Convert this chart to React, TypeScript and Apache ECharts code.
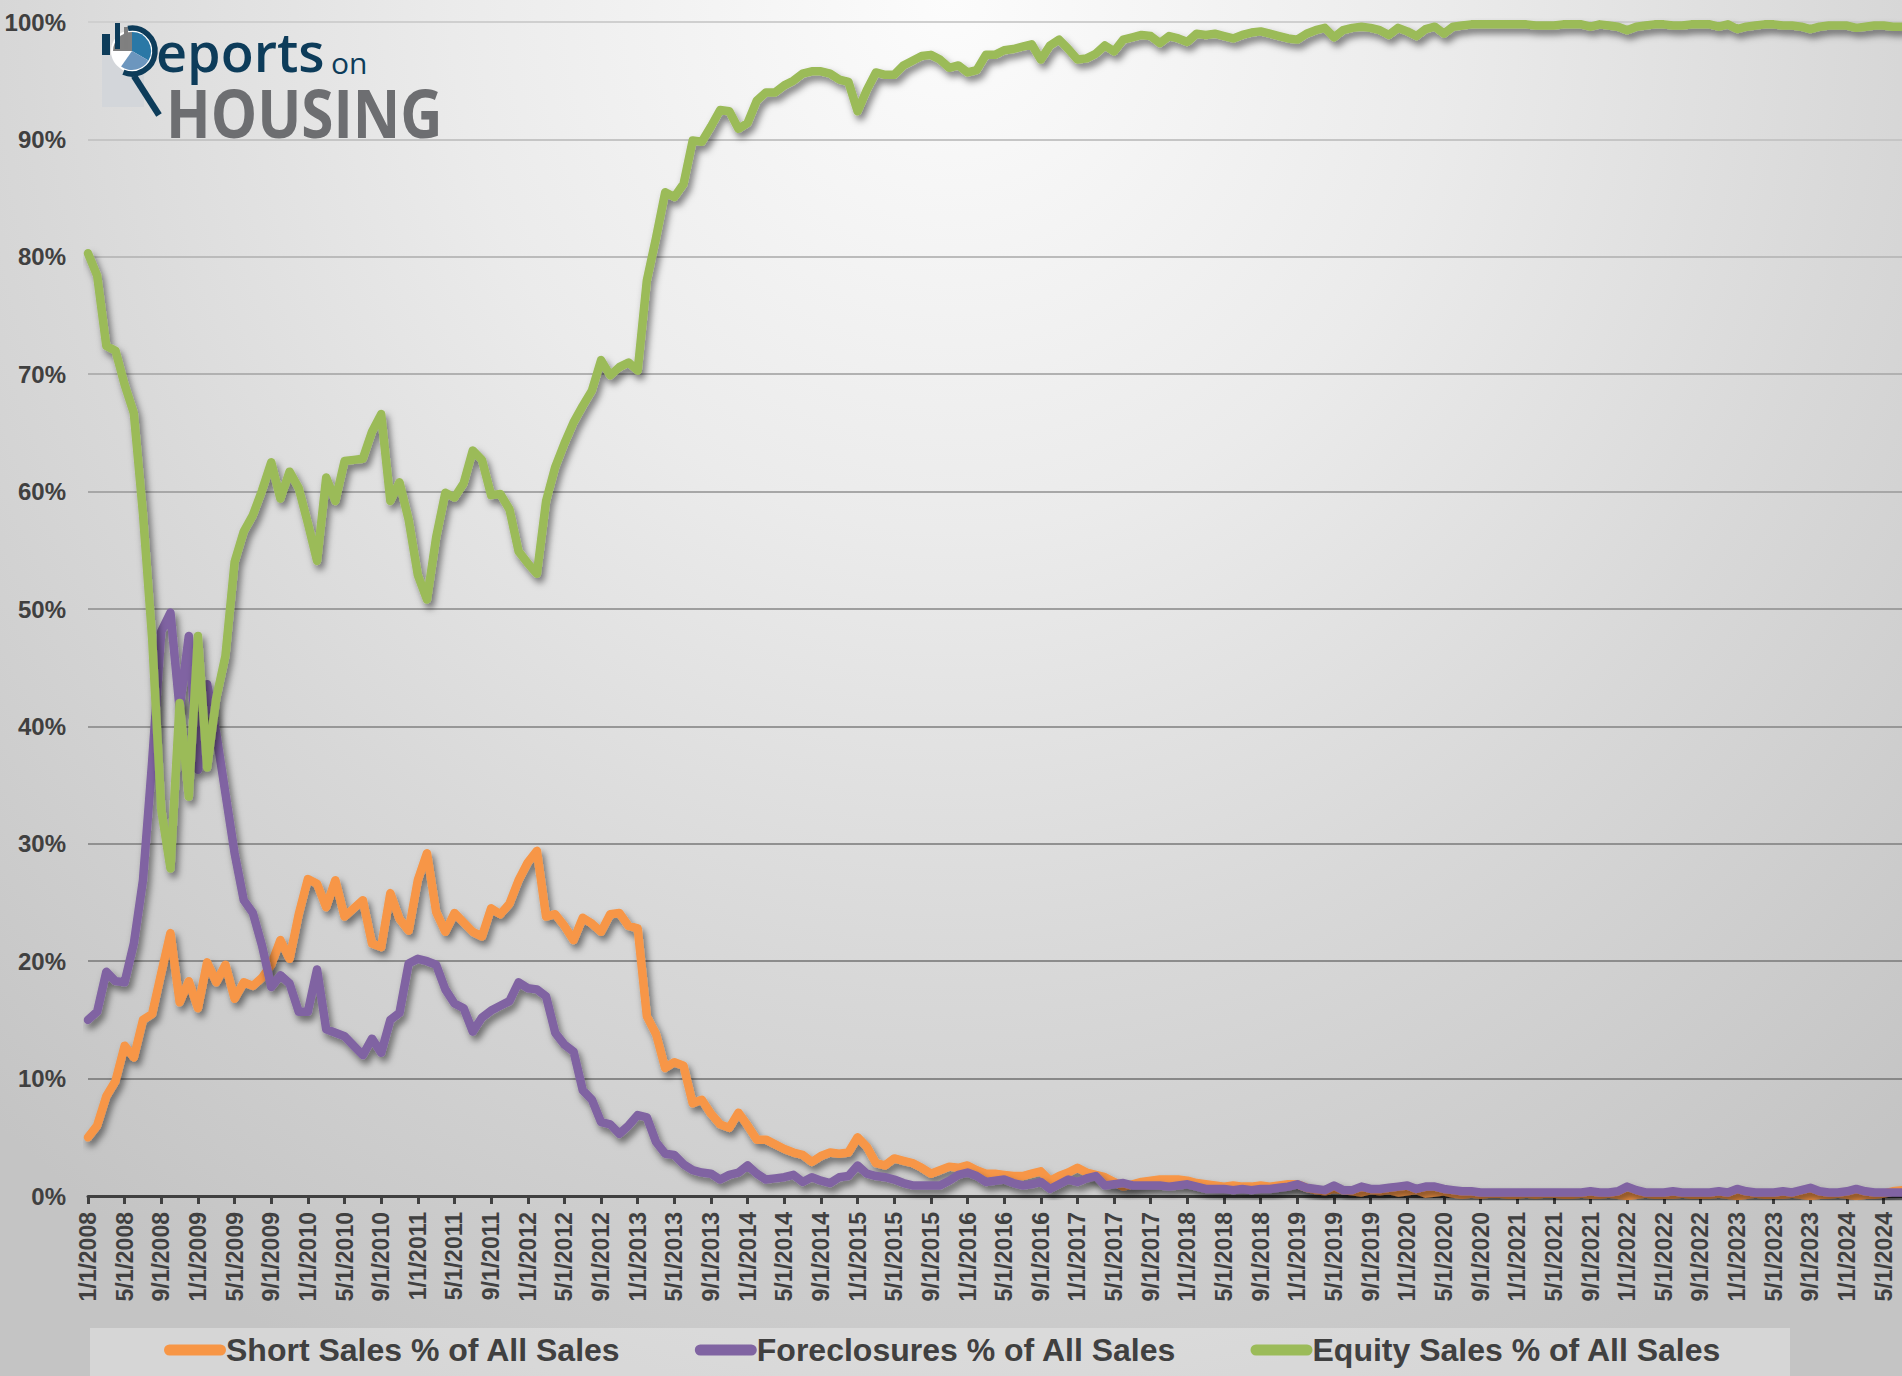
import React, { useEffect, useRef } from 'react';
import * as echarts from 'echarts';

const START_YEAR = 2008;

const shortSales = [
  5.0, 6.0, 8.5, 9.8, 12.8, 11.8, 15.0, 15.5, 19.0, 22.4,
  16.5, 18.3, 16.0, 19.9, 18.2, 19.7, 16.8, 18.2, 17.9, 18.6,
  19.7, 21.8, 20.2, 24.0, 27.0, 26.6, 24.6, 26.9, 23.8, 24.5,
  25.2, 21.5, 21.2, 25.8, 23.6, 22.6, 26.9, 29.2, 24.2, 22.5,
  24.1, 23.3, 22.5, 22.1, 24.5, 24.0, 24.9, 26.9, 28.4, 29.4,
  23.8, 24.0, 23.0, 21.8, 23.7, 23.2, 22.5, 24.0, 24.1, 23.0,
  22.8, 15.3, 13.8, 10.9, 11.4, 11.1, 7.9, 8.2, 7.0, 6.1,
  5.8, 7.1, 6.0, 4.8, 4.8, 4.4, 4.0, 3.7, 3.5, 2.9,
  3.4, 3.7, 3.6, 3.7, 5.0, 4.2, 2.8, 2.6, 3.2, 3.0,
  2.8, 2.4, 1.9, 2.2, 2.5, 2.4, 2.6, 2.2, 1.9, 1.9,
  1.8, 1.7, 1.7, 1.9, 2.1, 1.3, 1.7, 2.0, 2.4, 2.0,
  1.8, 1.6, 1.2, 0.8, 1.0, 1.2, 1.3, 1.4, 1.4, 1.4,
  1.3, 1.1, 1.0, 0.9, 0.8, 0.9, 0.8, 0.8, 0.9, 0.8,
  0.9, 1.0, 1.0, 0.7, 0.5, 0.4, 0.6, 0.5, 0.4, 0.3,
  0.5, 0.4, 0.5, 0.3, 0.4, 0.5, 0.2, 0.3, 0.4, 0.2,
  0.1, 0.2, 0.1, 0.2, 0.2, 0.1, 0.1, 0.2, 0.1, 0.2,
  0.2, 0.1, 0.1, 0.2, 0.1, 0.1, 0.2, 0.1, 0.0, 0.1,
  0.2, 0.1, 0.1, 0.1, 0.2, 0.1, 0.1, 0.1, 0.2, 0.1,
  0.0, 0.1, 0.2, 0.1, 0.1, 0.1, 0.2, 0.1, 0.0, 0.1,
  0.1, 0.2, 0.1, 0.0, 0.1, 0.1, 0.2, 0.4, 0.5,
];

const foreclosures = [
  15.0, 15.7, 19.1, 18.3, 18.2, 21.5, 26.9, 37.0, 48.1, 49.7,
  41.5, 47.7, 36.3, 43.6, 39.4, 34.3, 29.2, 25.2, 24.1, 21.3,
  17.8, 18.8, 18.1, 15.7, 15.7, 19.3, 14.2, 13.9, 13.6, 12.8,
  12.0, 13.4, 12.2, 15.0, 15.6, 19.8, 20.2, 20.0, 19.7, 17.6,
  16.4, 16.0, 14.0, 15.2, 15.8, 16.2, 16.6, 18.2, 17.7, 17.6,
  17.0, 13.9, 12.9, 12.3, 9.0, 8.2, 6.3, 6.1, 5.3, 6.0,
  6.9, 6.7, 4.6, 3.6, 3.5, 2.7, 2.2, 2.0, 1.9, 1.4,
  1.8, 2.0, 2.6, 1.9, 1.4, 1.5, 1.6, 1.8, 1.2, 1.6,
  1.3, 1.1, 1.6, 1.7, 2.6, 1.9, 1.7, 1.6, 1.4, 1.1,
  0.9, 0.9, 0.9, 0.9, 1.3, 1.8, 2.0, 1.7, 1.2, 1.3,
  1.4, 1.1, 0.9, 1.0, 1.2, 0.6, 1.0, 1.4, 1.2, 1.5,
  1.7, 0.9, 1.0, 1.1, 0.9, 0.9, 0.9, 0.9, 0.8, 0.9,
  1.0, 0.8, 0.6, 0.6, 0.6, 0.5, 0.6, 0.5, 0.6, 0.6,
  0.7, 0.8, 1.0, 0.7, 0.6, 0.5, 0.9, 0.5, 0.5, 0.8,
  0.6, 0.6, 0.7, 0.8, 0.9, 0.6, 0.8, 0.8, 0.6, 0.5,
  0.4, 0.4, 0.3, 0.3, 0.3, 0.3, 0.3, 0.3, 0.3, 0.3,
  0.3, 0.3, 0.3, 0.3, 0.4, 0.3, 0.3, 0.4, 0.8, 0.5,
  0.3, 0.3, 0.3, 0.4, 0.3, 0.3, 0.3, 0.3, 0.4, 0.3,
  0.6, 0.4, 0.3, 0.3, 0.3, 0.4, 0.3, 0.5, 0.7, 0.4,
  0.3, 0.3, 0.4, 0.6, 0.4, 0.3, 0.3, 0.3, 0.3,
];

const equitySales = [
  80.3, 78.4, 72.4, 72.0, 69.1, 66.7, 58.1, 47.5, 32.9, 27.9,
  42.0, 34.0, 47.7, 36.5, 42.4, 46.0, 54.0, 56.6, 58.0, 60.1,
  62.5, 59.4, 61.7, 60.3, 57.3, 54.1, 61.2, 59.2, 62.6, 62.7,
  62.8, 65.1, 66.6, 59.2, 60.8, 57.6, 52.9, 50.8, 56.1, 59.9,
  59.5, 60.7, 63.5, 62.7, 59.7, 59.8, 58.5, 54.9, 53.9, 53.0,
  59.2, 62.1, 64.1, 65.9, 67.3, 68.6, 71.2, 69.9, 70.6, 71.0,
  70.3, 78.0, 81.6, 85.5, 85.1, 86.2, 89.9, 89.8, 91.1, 92.5,
  92.4, 90.9, 91.4, 93.3, 94.0, 94.0, 94.6, 95.0, 95.6, 95.8,
  95.8, 95.6, 95.1, 94.9, 92.4, 94.2, 95.7, 95.5, 95.5, 96.3,
  96.7, 97.1, 97.2, 96.8, 96.1, 96.3, 95.7, 95.9, 97.2, 97.2,
  97.6, 97.7, 97.9, 98.1, 96.8, 98.0, 98.5, 97.7, 96.8, 96.9,
  97.3, 98.0, 97.5, 98.5, 98.7, 98.9, 98.8, 98.2, 98.8, 98.6,
  98.3, 99.0, 98.9, 99.0, 98.8, 98.6, 98.9, 99.1, 99.2, 99.0,
  98.8, 98.6, 98.5, 99.0, 99.3, 99.5, 98.7, 99.3, 99.5, 99.6,
  99.5, 99.3, 98.9, 99.5, 99.2, 98.8, 99.4, 99.6, 99.0, 99.6,
  99.7, 99.8, 99.8, 99.8, 99.8, 99.8, 99.8, 99.8, 99.7, 99.7,
  99.7, 99.8, 99.8, 99.8, 99.6, 99.8, 99.7, 99.6, 99.3, 99.6,
  99.7, 99.8, 99.8, 99.7, 99.7, 99.8, 99.8, 99.8, 99.6, 99.8,
  99.4, 99.6, 99.7, 99.8, 99.8, 99.7, 99.7, 99.6, 99.4, 99.6,
  99.7, 99.7, 99.7, 99.5, 99.6, 99.7, 99.7, 99.6, 99.6,
];

const seriesNames = [
  'Short Sales % of All Sales',
  'Foreclosures % of All Sales',
  'Equity Sales % of All Sales',
];
const seriesColors = ['#F79646', '#8064A2', '#9BBB59'];

// month categories 1/1/2008 ... (one per data point)
const categories = shortSales.map(
  (_, i) => `${(i % 12) + 1}/1/${START_YEAR + Math.floor(i / 12)}`
);

// gridline colours from 0% to 100%
const gridColors = [
  '#808080', '#888888', '#8c8c8c', '#919191', '#979797', '#9e9e9e',
  '#a7a7a7', '#b1b1b1', '#bbbbbb', '#c5c5c5', '#cfcfcf',
];

const FONT = '"Liberation Sans", Arial, sans-serif';
const NAVY = '#0d3c5a';

export default function App() {
  const ref = useRef<HTMLDivElement>(null);

  useEffect(() => {
    if (!ref.current) return;
    const chart = echarts.init(ref.current, undefined, { renderer: 'svg' });
    const D = Math.PI / 180;
    const lineStyleFor = (c: string) => ({
      width: 8.5,
      color: c,
      cap: 'round',
      join: 'round',
      shadowColor: 'rgba(0,0,0,0.5)',
      shadowBlur: 7,
      shadowOffsetX: 3,
      shadowOffsetY: 5,
    });
    const data = [shortSales, foreclosures, equitySales];

    chart.setOption({
      animation: false,
      backgroundColor: 'transparent',
      textStyle: { fontFamily: FONT },
      grid: { left: 88, right: 0, top: 22, bottom: 180, containLabel: false },
      xAxis: {
        type: 'category',
        data: categories,
        boundaryGap: false,
        axisLine: { lineStyle: { color: '#404040', width: 3 } },
        axisTick: {
          interval: 3,
          length: 8,
          lineStyle: { color: '#404040', width: 3 },
        },
        axisLabel: {
          interval: 3,
          rotate: 90,
          margin: 16,
          fontSize: 23,
          fontWeight: 'bold',
          color: '#404040',
          fontFamily: FONT,
        },
        splitLine: { show: false },
      },
      yAxis: {
        type: 'value',
        min: 0,
        max: 100,
        interval: 10,
        axisLine: { show: false },
        axisTick: { show: false },
        axisLabel: {
          formatter: '{value}%',
          margin: 22,
          fontSize: 24,
          fontWeight: 'bold',
          color: '#404040',
          fontFamily: FONT,
        },
        splitLine: { lineStyle: { color: gridColors, width: 2 } },
      },
      legend: {
        left: 164,
        top: 1334,
        padding: 0,
        itemWidth: 62,
        itemHeight: 11,
        itemGap: 74,
        icon: 'path://M5.5,0 H56.5 A5.5,5.5 0 0 1 56.5,11 H5.5 A5.5,5.5 0 0 1 5.5,0 Z',
        itemStyle: { shadowBlur: 0, shadowOffsetX: 0, shadowOffsetY: 0, shadowColor: 'transparent' },
        textStyle: {
          fontSize: 32,
          fontWeight: 'bold',
          color: '#404040',
          fontFamily: FONT,
          padding: [0, 0, 0, -5],
        },
        data: seriesNames,
      },
      series: seriesNames.map((name, k) => ({
        name,
        type: 'line',
        data: data[k],
        symbol: 'none',
        z: 2 + k,
        color: seriesColors[k],
        itemStyle: { color: seriesColors[k] },
        lineStyle: lineStyleFor(seriesColors[k]),
      })),
      graphic: [
        {
          type: 'rect',
          silent: true,
          z: 0,
          shape: { x: 90, y: 1328, width: 1700, height: 48 },
          style: { fill: 'rgba(255,255,255,0.3)' },
        },
        // logo
        { type: 'rect', z: 10, shape: { x: 102, y: 55, width: 42, height: 52 }, style: { fill: '#d3d6da' } },
        { type: 'rect', z: 10, shape: { x: 102, y: 34, width: 8, height: 21 }, style: { fill: NAVY } },
        { type: 'circle', z: 10, shape: { cx: 132, cy: 51, r: 21 }, style: { fill: '#ffffff' } },
        { type: 'sector', z: 11, shape: { cx: 132, cy: 51, r0: 0, r: 19, startAngle: -90 * D, endAngle: 30 * D }, style: { fill: '#2a78a6' } },
        { type: 'sector', z: 11, shape: { cx: 132, cy: 51, r0: 0, r: 19, startAngle: 30 * D, endAngle: 125 * D }, style: { fill: '#6c96be' } },
        { type: 'sector', z: 11, shape: { cx: 132, cy: 51, r0: 0, r: 19, startAngle: 180 * D, endAngle: 270 * D }, style: { fill: '#808080' } },
        { type: 'rect', z: 12, shape: { x: 115, y: 23, width: 5, height: 26 }, style: { fill: NAVY } },
        { type: 'rect', z: 12, shape: { x: 124, y: 27, width: 4, height: 22 }, style: { fill: '#7f7f7f' } },
        { type: 'arc', z: 12, shape: { cx: 132, cy: 51, r: 23, startAngle: -100 * D, endAngle: 112 * D, clockwise: true }, style: { stroke: NAVY, lineWidth: 5.5, fill: 'none' } },
        { type: 'line', z: 12, shape: { x1: 134, y1: 76, x2: 159, y2: 115 }, style: { stroke: NAVY, lineWidth: 6.5 } },
        {
          type: 'text', z: 12, x: 156, y: 51,
          style: { text: 'eports', fontSize: 54, fontWeight: 600, fontFamily: '"Open Sans", sans-serif', fill: NAVY, textVerticalAlign: 'middle', textAlign: 'left' },
        },
        {
          type: 'text', z: 12, x: 331, y: 62,
          style: { text: 'on', fontSize: 30, fontWeight: 500, fontFamily: '"Open Sans", sans-serif', fill: NAVY, textVerticalAlign: 'middle', textAlign: 'left' },
        },
        {
          type: 'text', z: 12, x: 166, y: 112, scaleX: 0.885,
          style: { text: 'HOUSING', fontSize: 66, fontWeight: 'bold', fontFamily: '"Open Sans", sans-serif', fill: '#6d6e71', textVerticalAlign: 'middle', textAlign: 'left' },
        },
      ],
    });
    return () => chart.dispose();
  }, []);

  return (
    <div
      ref={ref}
      style={{
        position: 'absolute',
        left: 0,
        top: 0,
        width: 1902,
        height: 1376,
        background:
          'radial-gradient(ellipse 75% 110% at 50% 0%, #fcfcfc 0%, #ebebeb 35%, #d8d8d8 65%, #c4c4c4 100%)',
      }}
    />
  );
}
